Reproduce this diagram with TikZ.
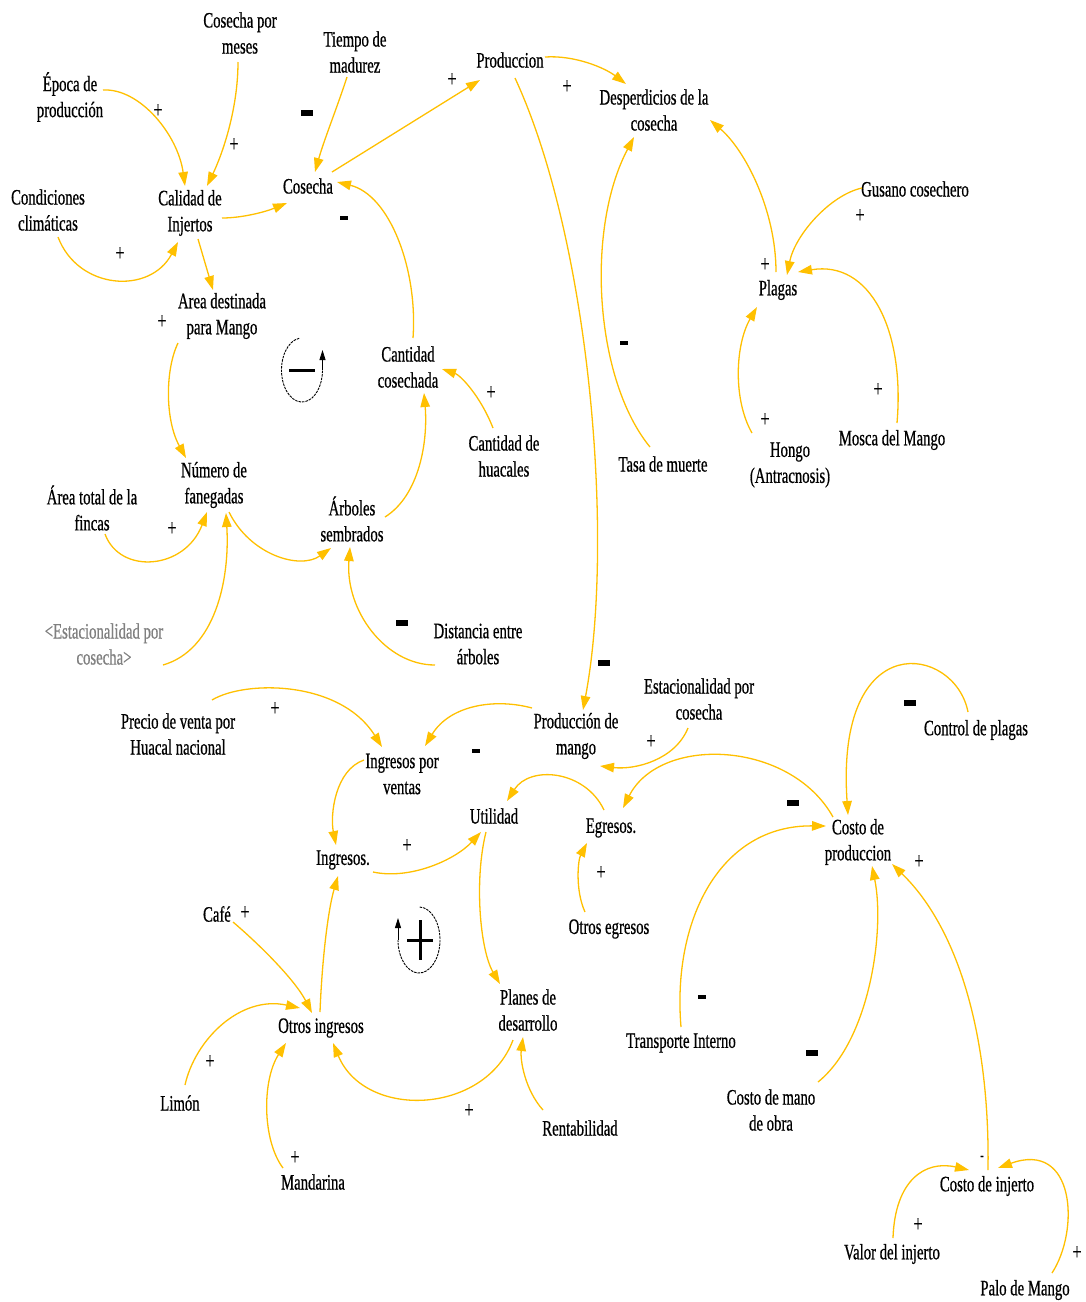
\documentclass[tikz,border=0pt]{standalone}
\usepackage{fontspec}
\setmainfont[FakeStretch=0.67,FakeBold=0.6]{Liberation Serif}
\usetikzlibrary{arrows.meta}
\definecolor{mango}{RGB}{255,192,0}
\definecolor{shadowvar}{RGB}{128,128,128}
\begin{document}
\begin{tikzpicture}[x=1pt,y=-1pt,
  var/.style={align=center, inner sep=1pt, font=\fontsize{22}{26}\selectfont},
  lnk/.style={draw=mango, line width=1.3pt, -{Triangle[length=14pt,width=9.5pt]}},
  plussign/.style={font=\fontsize{24}{24}\selectfont, inner sep=0pt},
  negbig/.style={fill=black, minimum width=12pt, minimum height=6pt, inner sep=0pt},
  negsmall/.style={fill=black, minimum width=8pt, minimum height=4pt, inner sep=0pt},
  loopline/.style={draw=black, line width=0.9pt, dash pattern=on 2.5pt off 1pt},
  looptip/.style={-{Triangle[length=10pt,width=6pt]}}]
\path[fill=white] (0,0) rectangle (1086,1302);
\useasboundingbox (0,0) rectangle (1086,1302);

% ---------- variables ----------
\node[var] (cosmes)     at (240,33)   {Cosecha por\\meses};
\node[var] (tiempo)     at (355,52)   {Tiempo de\\madurez};
\node[var] (epoca)      at (70,97)    {Época de\\producción};
\node[var] (produccion) at (510,60)   {Produccion};
\node[var] (desper)     at (654,110)  {Desperdicios de la\\cosecha};
\node[var] (condic)     at (48,210)   {Condiciones\\climáticas};
\node[var] (calidad)    at (190,213)  {Calidad de\\Injertos};
\node[var] (cosecha)    at (308,186)  {Cosecha};
\node[var] (gusano)     at (915,189)  {Gusano cosechero};
\node[var] (area)       at (222,316)  {Area destinada\\para Mango};
\node[var] (plagas)     at (778,290)  {Plagas};
\node[var] (cantcos)    at (408,367)  {Cantidad\\cosechada};
\node[var] (huacales)   at (504,456)  {Cantidad de\\huacales};
\node[var] (tasa)       at (663,464)  {Tasa de muerte};
\node[var] (hongo)      at (790,465)  {Hongo\\(Antracnosis)};
\node[var] (mosca)      at (892,440)  {Mosca del Mango};
\node[var] (numero)     at (214,485)  {Número de\\fanegadas};
\node[var] (areatotal)  at (92,508)   {Área total de la\\fincas};
\node[var] (arboles)    at (352,519)  {Árboles\\sembrados};
\node[var,text=shadowvar] (estacg) at (104,644) {<Estacionalidad por\\cosecha>};
\node[var] (distancia)  at (478,644)  {Distancia entre\\árboles};
\node[var] (estac)      at (699,699)  {Estacionalidad por\\cosecha};
\node[var] (prodmango)  at (576,736)  {Producción de\\mango};
\node[var] (control)    at (976,730)  {Control de plagas};
\node[var] (precio)     at (178,734)  {Precio de venta por\\Huacal nacional};
\node[var] (ingventas)  at (402,774)  {Ingresos por\\ventas};
\node[var] (utilidad)   at (494,816)  {Utilidad};
\node[var] (egresos)    at (611,828)  {Egresos.};
\node[var] (costoprod)  at (858,842)  {Costo de\\produccion};
\node[var] (ingresos)   at (343,860)  {Ingresos.};
\node[var] (cafe)       at (217,914)  {Café};
\node[var] (otrosegr)   at (609,929)  {Otros egresos};
\node[var] (planes)     at (528,1010) {Planes de\\desarrollo};
\node[var] (otrosing)   at (321,1028) {Otros ingresos};
\node[var] (transporte) at (681,1043) {Transporte Interno};
\node[var] (manoobra)   at (771,1110) {Costo de mano\\de obra};
\node[var] (limon)      at (180,1103) {Limón};
\node[var] (rentab)     at (580,1128) {Rentabilidad};
\node[var] (mandarina)  at (313,1182) {Mandarina};
\node[var] (costoinj)   at (987,1186) {Costo de injerto};
\node[var] (valorinj)   at (892,1254) {Valor del injerto};
\node[var] (palo)       at (1025,1290){Palo de Mango};

% ---------- causal links ----------
\draw[lnk] ([shift={(33,-7)}]epoca.center) .. controls (140,88) and (178,135) .. ([shift={(-5,-27)}]calidad.center);
\draw[lnk] ([shift={(-2,29)}]cosmes.center) .. controls (238,110) and (222,155) .. ([shift={(17,-27)}]calidad.center);
\draw[lnk] ([shift={(10,27)}]condic.center) .. controls (78,290) and (150,295) .. ([shift={(-12,29)}]calidad.center);
\draw[lnk] ([shift={(32,5)}]calidad.center) .. controls (242,218) and (265,212) .. ([shift={(-21,17)}]cosecha.center);
\draw[lnk] ([shift={(-8,25)}]tiempo.center) .. controls (338,105) and (324,140) .. ([shift={(7,-14)}]cosecha.center);
\draw[lnk] ([shift={(8,26)}]calidad.center) -- ([shift={(-9,-26)}]area.center);
\draw[lnk] ([shift={(24,-14)}]cosecha.center) -- ([shift={(-30,20)}]produccion.center);
\draw[lnk] ([shift={(35,-3)}]produccion.center) .. controls (575,55) and (605,68) .. ([shift={(-28,-26)}]desper.center);
\draw[lnk] ([shift={(5,18)}]produccion.center) .. controls (590,240) and (615,540) .. ([shift={(7,-26)}]prodmango.center);
\draw[lnk] ([shift={(5,-29)}]cantcos.center) .. controls (418,270) and (390,195) .. ([shift={(29,-4)}]cosecha.center);
\draw[lnk] ([shift={(-13,-17)}]tasa.center) .. controls (595,380) and (585,230) .. ([shift={(-20,27)}]desper.center);
\draw[lnk] ([shift={(-2,-18)}]plagas.center) .. controls (776,210) and (745,150) .. ([shift={(56,10)}]desper.center);
\draw[lnk] ([shift={(-53,-1)}]gusano.center) .. controls (830,195) and (795,235) .. ([shift={(9,-15)}]plagas.center);
\draw[lnk] ([shift={(5,-17)}]mosca.center) .. controls (905,330) and (870,260) .. ([shift={(20,-18)}]plagas.center);
\draw[lnk] ([shift={(-38,-32)}]hongo.center) .. controls (733,400) and (735,345) .. ([shift={(-21,17)}]plagas.center);
\draw[lnk] ([shift={(-44,27)}]area.center) .. controls (165,370) and (165,420) .. ([shift={(-28,-27)}]numero.center);
\draw[lnk] ([shift={(13,26)}]areatotal.center) .. controls (120,575) and (185,570) .. ([shift={(-7,27)}]numero.center);
\draw[lnk] ([shift={(59,21)}]estacg.center) .. controls (215,650) and (230,580) .. ([shift={(12,28)}]numero.center);
\draw[lnk] ([shift={(15,27)}]numero.center) .. controls (250,555) and (300,570) .. ([shift={(-21,29)}]arboles.center);
\draw[lnk] ([shift={(33,-2)}]arboles.center) .. controls (420,495) and (428,440) .. ([shift={(16,26)}]cantcos.center);
\draw[lnk] ([shift={(-11,-28)}]huacales.center) .. controls (480,395) and (460,375) .. ([shift={(34,2)}]cantcos.center);
\draw[lnk] ([shift={(-43,21)}]distancia.center) .. controls (385,665) and (345,610) .. ([shift={(-2,28)}]arboles.center);

\draw[lnk] ([shift={(34,-34)}]precio.center) .. controls (245,680) and (340,680) .. ([shift={(-20,-27)}]ingventas.center);
\draw[lnk] ([shift={(-44,-28)}]prodmango.center) .. controls (495,698) and (450,705) .. ([shift={(23,-28)}]ingventas.center);
\draw[lnk] ([shift={(-11,29)}]estac.center) .. controls (675,760) and (635,770) .. ([shift={(24,30)}]prodmango.center);
\draw[lnk] ([shift={(-25,-25)}]costoprod.center) .. controls (790,740) and (660,735) .. ([shift={(12,-20)}]egresos.center);
\draw[lnk] ([shift={(-7,-18)}]egresos.center) .. controls (585,770) and (530,765) .. ([shift={(13,-15)}]utilidad.center);
\draw[lnk] ([shift={(-38,-14)}]ingventas.center) .. controls (335,770) and (330,815) .. ([shift={(-7,-15)}]ingresos.center);
\draw[lnk] ([shift={(30,12)}]ingresos.center) .. controls (410,880) and (455,860) .. ([shift={(-13,16)}]utilidad.center);
\draw[lnk] ([shift={(-8,16)}]utilidad.center) .. controls (474,880) and (480,950) .. ([shift={(-28,-26)}]planes.center);
\draw[lnk] ([shift={(-24,-17)}]otrosegr.center) .. controls (575,890) and (578,860) .. ([shift={(-24,15)}]egresos.center);
\draw[lnk] ([shift={(-1,-16)}]otrosing.center) .. controls (322,960) and (328,910) .. ([shift={(-5,16)}]ingresos.center);
\draw[lnk] ([shift={(16,8)}]cafe.center) .. controls (260,945) and (295,980) .. ([shift={(-9,-15)}]otrosing.center);
\draw[lnk] ([shift={(5,-18)}]limon.center) .. controls (195,1040) and (240,995) .. ([shift={(-21,-20)}]otrosing.center);
\draw[lnk] ([shift={(-30,-14)}]mandarina.center) .. controls (262,1140) and (262,1080) .. ([shift={(-35,15)}]otrosing.center);
\draw[lnk] ([shift={(-15,30)}]planes.center) .. controls (485,1115) and (365,1120) .. ([shift={(12,15)}]otrosing.center);
\draw[lnk] ([shift={(-37,-18)}]rentab.center) .. controls (525,1090) and (520,1060) .. ([shift={(-5,27)}]planes.center);
\draw[lnk] ([shift={(-8,-18)}]control.center) .. controls (955,645) and (835,625) .. ([shift={(-10,-27)}]costoprod.center);
\draw[lnk] ([shift={(0,-16)}]transporte.center) .. controls (672,920) and (720,825) .. ([shift={(-32,-16)}]costoprod.center);
\draw[lnk] ([shift={(47,-28)}]manoobra.center) .. controls (870,1040) and (885,930) .. ([shift={(14,24)}]costoprod.center);
\draw[lnk] ([shift={(1,-16)}]costoinj.center) .. controls (990,1040) and (960,930) .. ([shift={(34,22)}]costoprod.center);
\draw[lnk] ([shift={(1,-16)}]valorinj.center) .. controls (895,1180) and (925,1160) .. ([shift={(-18,-16)}]costoinj.center);
\draw[lnk] ([shift={(27,-17)}]palo.center) .. controls (1080,1230) and (1075,1140) .. ([shift={(11,-18)}]costoinj.center);

% ---------- polarity signs ----------
\node[plussign] (p1)  at (158,111)  {+};
\node[plussign] (p2)  at (234,145)  {+};
\node[plussign] (p3)  at (120,254)  {+};
\node[plussign] (p4)  at (452,80)   {+};
\node[plussign] (p5)  at (567,87)   {+};
\node[plussign] (p6)  at (162,322)  {+};
\node[plussign] (p7)  at (491,393)  {+};
\node[plussign] (p8)  at (765,265)  {+};
\node[plussign] (p9)  at (860,216)  {+};
\node[plussign] (p10) at (878,390)  {+};
\node[plussign] (p11) at (765,420)  {+};
\node[plussign] (p12) at (172,529)  {+};
\node[plussign] (p13) at (275,709)  {+};
\node[plussign] (p14) at (651,742)  {+};
\node[plussign] (p15) at (407,846)  {+};
\node[plussign] (p16) at (601,873)  {+};
\node[plussign] (p17) at (245,913)  {+};
\node[plussign] (p18) at (210,1062) {+};
\node[plussign] (p19) at (295,1158) {+};
\node[plussign] (p20) at (469,1111) {+};
\node[plussign] (p21) at (919,862)  {+};
\node[plussign] (p22) at (918,1225) {+};
\node[plussign] (p23) at (1077,1253){+};
\node[negbig] (n1) at (307,113) {};
\node[negbig] (n2) at (402,623) {};
\node[negbig] (n3) at (604,663) {};
\node[negbig] (n4) at (910,703) {};
\node[negbig] (n5) at (793,803) {};
\node[negbig] (n6) at (812,1053) {};
\node[negsmall] (n7) at (344,218) {};
\node[negsmall] (n8) at (476,751) {};
\node[negsmall] (n9) at (702,997) {};
\node[negsmall] (n10) at (624,343) {};
\node[plussign,font=\fontsize{16}{16}\selectfont] (n11) at (982,1158) {-};

% ---------- loop markers ----------
\coordinate (balloop) at (302,370);
\draw[loopline] (balloop) ++(262:20.5 and 32) arc[start angle=262, end angle=0, x radius=20.5, y radius=32];
\draw[line width=0.9pt, looptip] ([shift={(20.5,0)}]balloop) -- ++(0,-20);
\draw[line width=3pt] ([shift={(-13,0)}]balloop) -- ([shift={(13,0)}]balloop);

\coordinate (rloop) at (419,940);
\draw[loopline] (rloop) ++(272:21 and 33) arc[start angle=272, end angle=540, x radius=21, y radius=33];
\draw[line width=0.9pt, looptip] ([shift={(-21,0)}]rloop) -- ++(0,-22);
\draw[line width=3pt] ([shift={(-12,0)}]rloop) -- ([shift={(14,0)}]rloop);
\draw[line width=3pt] ([shift={(1,-20)}]rloop) -- ([shift={(1,20)}]rloop);
\end{tikzpicture}
\end{document}
